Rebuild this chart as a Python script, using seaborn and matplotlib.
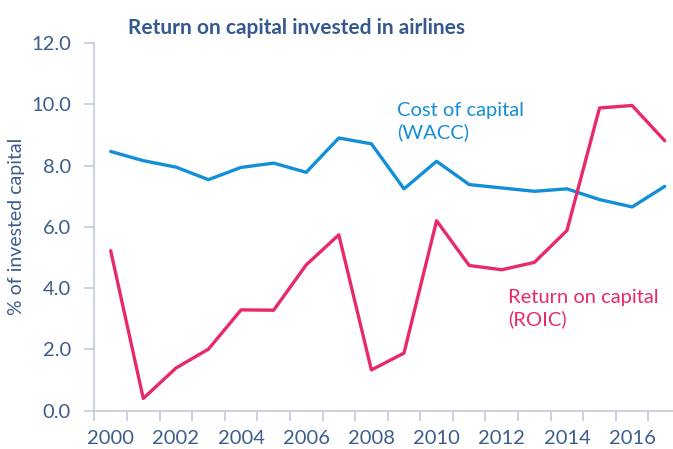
import matplotlib
matplotlib.use("Agg")
import matplotlib.pyplot as plt
from matplotlib.ticker import FixedLocator, FixedFormatter
import seaborn as sns
import pandas as pd
import numpy as np

years = list(range(2000, 2018))
wacc = [8.46, 8.16, 7.95, 7.54, 7.94, 8.08, 7.78, 8.90, 8.71, 7.24,
        8.14, 7.38, 7.27, 7.16, 7.24, 6.89, 6.65, 7.32]
roic = [5.22, 0.40, 1.39, 2.01, 3.29, 3.28, 4.76, 5.74, 1.33, 1.88,
        6.20, 4.74, 4.60, 4.84, 5.88, 9.88, 9.96, 8.81]
series_names = ["Cost of capital (WACC)", "Return on capital (ROIC)"]
y_ticks = [0, 2, 4, 6, 8, 10, 12]
x_label_years = list(range(2000, 2017, 2))

title = "Return on capital invested in airlines"
ylabel = "% of invested capital"

df = pd.DataFrame({
    "year": years * 2,
    "value": wacc + roic,
    "series": [series_names[0]] * len(years) + [series_names[1]] * len(years),
})

sns.set_theme(style="white")
plt.rcParams["font.family"] = ["Lato", "DejaVu Sans"]

BLUE = "#138fd7"
PINK = "#e8296b"
TXT = "#3d5d8d"
AX = "#c3cadd"

W, H = 673, 449
fig = plt.figure(figsize=(W / 100, H / 100), dpi=100)
left, right, top, bottom = 94.4, 681.0, 43.0, 410.7
ax = fig.add_axes([left / W, (H - bottom) / H, (right - left) / W, (bottom - top) / H])

sns.lineplot(data=df, x="year", y="value", hue="series",
             palette={series_names[0]: BLUE, series_names[1]: PINK},
             linewidth=2.4, legend=False, ax=ax)

ax.set_xlim(1999.5, 2017.5)
ax.set_ylim(0, 12)
for s in ["top", "right"]:
    ax.spines[s].set_visible(False)
for s in ["left", "bottom"]:
    ax.spines[s].set_color(AX)
    ax.spines[s].set_linewidth(1.2)

ax.yaxis.set_major_locator(FixedLocator(y_ticks))
ax.set_yticklabels([f"{v:.1f}" for v in y_ticks])
ax.tick_params(axis="y", which="major", length=7, width=1.2, color=AX,
               direction="out", labelsize=14.5, labelcolor=TXT, pad=10, left=True)

ax.xaxis.set_major_locator(FixedLocator(x_label_years))
ax.xaxis.set_major_formatter(FixedFormatter([str(y) for y in x_label_years]))
ax.xaxis.set_minor_locator(FixedLocator(np.arange(1999.5, 2018, 1.0)))
ax.tick_params(axis="x", which="major", length=0, labelsize=14.5, labelcolor=TXT, pad=14)
ax.tick_params(axis="x", which="minor", length=7, width=1.2, color=AX,
               direction="out", bottom=True)

ax.set_xlabel("")
ax.set_ylabel(ylabel, fontsize=14, color=TXT, labelpad=4)
ax.grid(False)

fig.text(297 / W, 1 - 28.5 / H, title, ha="center", va="center",
         fontsize=15, fontweight="bold", color="#35598f")

ax.text(2008.8, 10.08, "Cost of capital\n(WACC)", color=BLUE, fontsize=14.5,
        ha="left", va="top", linespacing=1.3)
ax.text(2012.2, 3.98, "Return on capital\n(ROIC)", color=PINK, fontsize=14.5,
        ha="left", va="top", linespacing=1.3)

fig.savefig("out.png", dpi=100)
